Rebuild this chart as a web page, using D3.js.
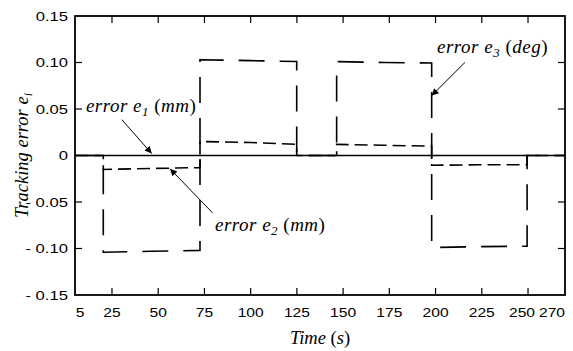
<!DOCTYPE html>
<html>
<head>
<meta charset="utf-8">
<script src="https://cdn.jsdelivr.net/npm/d3@7"></script>
<style>
  html, body { margin: 0; padding: 0; background: #fff; }
  svg { display: block; }
</style>
</head>
<body>
<div id="chart"></div>
<script>
// Time axis ticks (s) and tracking-error axis ticks
const timeTicks = [5, 25, 50, 75, 100, 125, 150, 175, 200, 225, 250, 270];
const errTicks = [-0.15, -0.10, -0.05, 0, 0.05, 0.10, 0.15];
const errTickLabels = ["- 0.15", "- 0.10", "- 0.05", "0", "0.05", "0.10", "0.15"];

// error e1 (mm): stays on zero for the whole run
const e1Time  = [5, 270];
const e1Value = [0, 0];

// error e2 (mm)
const e2Time  = [5, 20.3, 20.3, 46, 72.6, 72.6, 100, 124.9, 124.9, 146.5, 146.5, 172, 197.9, 197.9, 224, 249.5, 249.5, 270];
const e2Value = [0, 0, -0.015, -0.014, -0.013, 0.015, 0.014, 0.012, 0, 0, 0.012, 0.011, 0.010, -0.0105, -0.010, -0.010, 0, 0];

// error e3 (deg)
const e3Time  = [5, 20.3, 20.3, 46, 72.6, 72.6, 100, 124.9, 124.9, 146.5, 146.5, 172, 197.9, 197.9, 224, 249.5, 249.5, 270];
const e3Value = [0, 0, -0.104, -0.103, -0.102, 0.103, 0.102, 0.101, 0, 0, 0.101, 0.100, 0.0995, -0.099, -0.098, -0.0975, 0, 0];

const W = 573, H = 351;
const margin = { top: 16, right: 8, bottom: 56, left: 75 };

const svg = d3.select("#chart").append("svg")
  .attr("width", W).attr("height", H);

const x = d3.scaleLinear().domain([5, 270]).range([margin.left, W - margin.right]);
const y = d3.scaleLinear().domain([-0.15, 0.15]).range([H - margin.bottom, margin.top]);

const sans = "'Liberation Sans', Arial, sans-serif";
const serif = "'Liberation Serif', 'Times New Roman', serif";

const defs = svg.append("defs");
defs.append("marker")
  .attr("id", "arrow")
  .attr("viewBox", "0 0 10 10")
  .attr("refX", 10).attr("refY", 5)
  .attr("markerWidth", 12).attr("markerHeight", 7)
  .attr("markerUnits", "userSpaceOnUse")
  .attr("orient", "auto")
  .append("path").attr("d", "M0,0 L10,5 L0,10 Z").attr("fill", "#000");

// Series
const zip = (t, v) => t.map((d, i) => [d, v[i]]);
const line = d3.line().x(d => x(d[0])).y(d => y(d[1]));

svg.append("path").datum(zip(e1Time, e1Value))
  .attr("d", line).attr("fill", "none")
  .attr("stroke", "#000").attr("stroke-width", 1.6);

svg.append("path").datum(zip(e2Time, e2Value))
  .attr("d", line).attr("fill", "none")
  .attr("stroke", "#000").attr("stroke-width", 1.6)
  .attr("stroke-dasharray", "13,6");

svg.append("path").datum(zip(e3Time, e3Value))
  .attr("d", line).attr("fill", "none")
  .attr("stroke", "#000").attr("stroke-width", 1.6)
  .attr("stroke-dasharray", "26,15");

// Frame and inward ticks
const x0 = x.range()[0], x1 = x.range()[1];
const yTop = y.range()[1], yBot = y.range()[0];
const tickLen = 7;

svg.append("rect")
  .attr("x", x0).attr("y", yTop)
  .attr("width", x1 - x0).attr("height", yBot - yTop)
  .attr("fill", "none").attr("stroke", "#000").attr("stroke-width", 1.8);

const innerTime = timeTicks.slice(1, -1);
const innerErr = errTicks.slice(1, -1).filter(v => v !== 0);
const ticks = svg.append("g").attr("stroke", "#000").attr("stroke-width", 1.2);
innerTime.forEach(t => {
  ticks.append("line").attr("x1", x(t)).attr("x2", x(t)).attr("y1", yBot).attr("y2", yBot - tickLen);
  ticks.append("line").attr("x1", x(t)).attr("x2", x(t)).attr("y1", yTop).attr("y2", yTop + tickLen);
});
innerErr.forEach(v => {
  ticks.append("line").attr("x1", x0).attr("x2", x0 + tickLen).attr("y1", y(v)).attr("y2", y(v));
  ticks.append("line").attr("x1", x1).attr("x2", x1 - tickLen).attr("y1", y(v)).attr("y2", y(v));
});

// Tick labels (wide sans digits); the end labels are pulled in so they stay clear
const labelNudge = { 5: 5, 250: -6, 270: -13 };
const xLab = svg.append("g").attr("font-family", sans).attr("font-size", 13).attr("fill", "#000");
timeTicks.forEach(t => {
  const nudge = labelNudge[t] || 0;
  xLab.append("g").attr("transform", `translate(${x(t) + nudge},${yBot + 22})`)
    .append("text").attr("text-anchor", "middle")
    .attr("transform", "scale(1.2,1)").text(t);
});
const yLab = svg.append("g").attr("font-family", sans).attr("font-size", 13).attr("fill", "#000");
errTicks.forEach((v, i) => {
  yLab.append("g").attr("transform", `translate(${x0 - 7},${y(v)})`)
    .append("text").attr("text-anchor", "end").attr("dy", "0.36em")
    .attr("transform", "scale(1.28,1)").text(errTickLabels[i]);
});

// Axis titles
const xt = svg.append("text")
  .attr("x", (x0 + x1) / 2).attr("y", 344)
  .attr("text-anchor", "middle")
  .attr("font-family", serif).attr("font-size", 18.5).attr("font-style", "italic");
xt.append("tspan").text("Time ");
xt.append("tspan").attr("font-style", "normal").text("(");
xt.append("tspan").text("s");
xt.append("tspan").attr("font-style", "normal").text(")");

const yt = svg.append("text")
  .attr("transform", `translate(28,${(yTop + yBot) / 2}) rotate(-90)`)
  .attr("text-anchor", "middle")
  .attr("font-family", serif).attr("font-size", 18.5).attr("font-style", "italic");
yt.append("tspan").text("Tracking error e");
yt.append("tspan").attr("font-size", 12).attr("dy", 4).text("i");

// Series annotations
function label(t, v, sub, unit) {
  const g = svg.append("text")
    .attr("x", x(t)).attr("y", y(v))
    .attr("font-family", serif).attr("font-size", 19).attr("font-style", "italic")
    .attr("letter-spacing", 0.5);
  g.append("tspan").text("error e");
  g.append("tspan").attr("font-size", 13).attr("dy", 4).text(sub);
  g.append("tspan").attr("dy", -4).text(" ");
  g.append("tspan").attr("font-style", "normal").text("(");
  g.append("tspan").text(unit);
  g.append("tspan").attr("font-style", "normal").text(")");
}
function arrow(t0, v0, t1, v1) {
  svg.append("line")
    .attr("x1", x(t0)).attr("y1", y(v0)).attr("x2", x(t1)).attr("y2", y(v1))
    .attr("stroke", "#000").attr("stroke-width", 1)
    .attr("marker-end", "url(#arrow)");
}

label(10.9, 0.0472, "1", "mm");
arrow(30.3, 0.0386, 46.5, 0.0021);

label(80.7, -0.0815, "2", "mm");
arrow(79.3, -0.0615, 56.4, -0.0143);

label(200.8, 0.1105, "3", "deg");
arrow(215.9, 0.1001, 197.9, 0.0644);
</script>
</body>
</html>
